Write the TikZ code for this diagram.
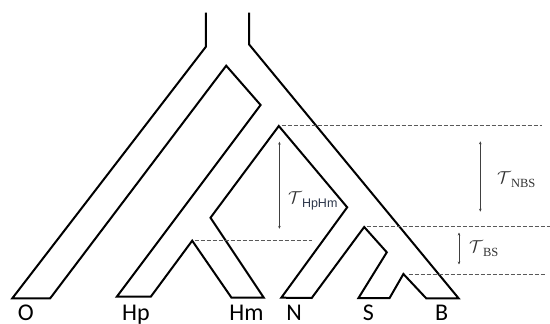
\documentclass[tikz,border=0pt]{standalone}
\usepackage{fontspec}
\setmainfont{Carlito}
\newfontfamily\serifsub{Liberation Serif}
\newfontfamily\sanssub{Liberation Sans}
\usetikzlibrary{arrows.meta}
\definecolor{slate}{RGB}{45,55,75}
\begin{document}
\begin{tikzpicture}[x=1pt,y=-1pt,
  tube/.style={line width=2pt, line join=miter, black},
  guide/.style={black!65, line width=0.9pt, dash pattern=on 4pt off 2pt},
  span/.style={line width=0.75pt, black!75,
    {Stealth[length=3pt,width=2.6pt]}-{Stealth[length=3pt,width=2.6pt]}},
  taxon/.style={anchor=base, inner sep=0pt, font=\fontsize{24}{24}\selectfont},
  tlabel/.style={anchor=west, inner sep=0pt, text=black!80}]
\useasboundingbox (0,0) rectangle (550,324);
\clip (0,0) rectangle (550,324);

% ancestral population tube and its splits
\coordinate (inApex) at (226.2,65.7);
\coordinate (hpApex) at (192.2,240.7);
\coordinate (nApex)  at (278.8,126);
\coordinate (sApex)  at (364.2,227);
\coordinate (bApex)  at (403.4,274);
\draw[tube] (205.9,12.7) -- (205.9,46.7) -- (12.3,298.3) -- (50.2,298.3)
  -- (inApex) -- (260.6,105) -- (116.8,296.7) -- (150.8,296.7)
  -- (hpApex) -- (231.5,297.7) -- (263.8,297.7) -- (210.5,217.7)
  -- (nApex) -- (347.2,207.3) -- (281.3,297.7) -- (311.7,298)
  -- (sApex) -- (386.8,252.3) -- (358.5,298) -- (389.6,298)
  -- (bApex) -- (426.2,298.3) -- (458.6,298.3) -- (249,44.3) -- (249,12.7);

% divergence-time guide lines
\coordinate (nGuideA) at (281.5,125.5);
\coordinate (nGuideB) at (542,125.5);
\coordinate (sGuideA) at (366.5,226.7);
\coordinate (sGuideB) at (550,226.7);
\coordinate (bGuideA) at (408.6,274);
\coordinate (bGuideB) at (545,274);
\coordinate (hGuideA) at (194.7,240.7);
\coordinate (hGuideB) at (311.5,240.7);
\draw[guide] (nGuideA) -- (nGuideB);
\draw[guide] (sGuideA) -- (sGuideB);
\draw[guide] (bGuideA) -- (bGuideB);
\draw[guide] (hGuideA) -- (hGuideB);

% interval arrows
\coordinate (hpTop) at (279.4,141.7);
\coordinate (hpBot) at (279.4,228.8);
\coordinate (nbsTop) at (480.3,141.3);
\coordinate (nbsBot) at (480.3,211.7);
\coordinate (bsTop) at (459,232.5);
\coordinate (bsBot) at (459,264.5);
\draw[span] (hpTop) -- (hpBot);
\draw[span] (nbsTop) -- (nbsBot);
\draw[span] (bsTop) -- (bsBot);

% interval labels
\node[tlabel] (tauHpHm) at (288,201)
  {\fontsize{16}{16}\selectfont$\mathcal{T}$\raisebox{-4pt}{\sanssub\color{slate}\fontsize{12.5}{12.5}\selectfont HpHm}};
\node[tlabel] (tauNBS) at (497,180)
  {\fontsize{16}{16}\selectfont$\mathcal{T}$\raisebox{-4pt}{\serifsub\fontsize{12.5}{12.5}\selectfont NBS}};
\node[tlabel] (tauBS) at (469,249)
  {\fontsize{16}{16}\selectfont$\mathcal{T}$\raisebox{-4pt}{\serifsub\fontsize{12.5}{12.5}\selectfont BS}};

% taxon names
\node[taxon] (O)  at (25.8,320.5) {O};
\node[taxon] (Hp) at (136,320.5) {Hp};
\node[taxon] (Hm) at (246.5,320.5) {Hm};
\node[taxon] (N)  at (294,320.5) {N};
\node[taxon] (S)  at (368.5,320.5) {S};
\node[taxon] (B)  at (441.6,320.5) {B};
\end{tikzpicture}
\end{document}
